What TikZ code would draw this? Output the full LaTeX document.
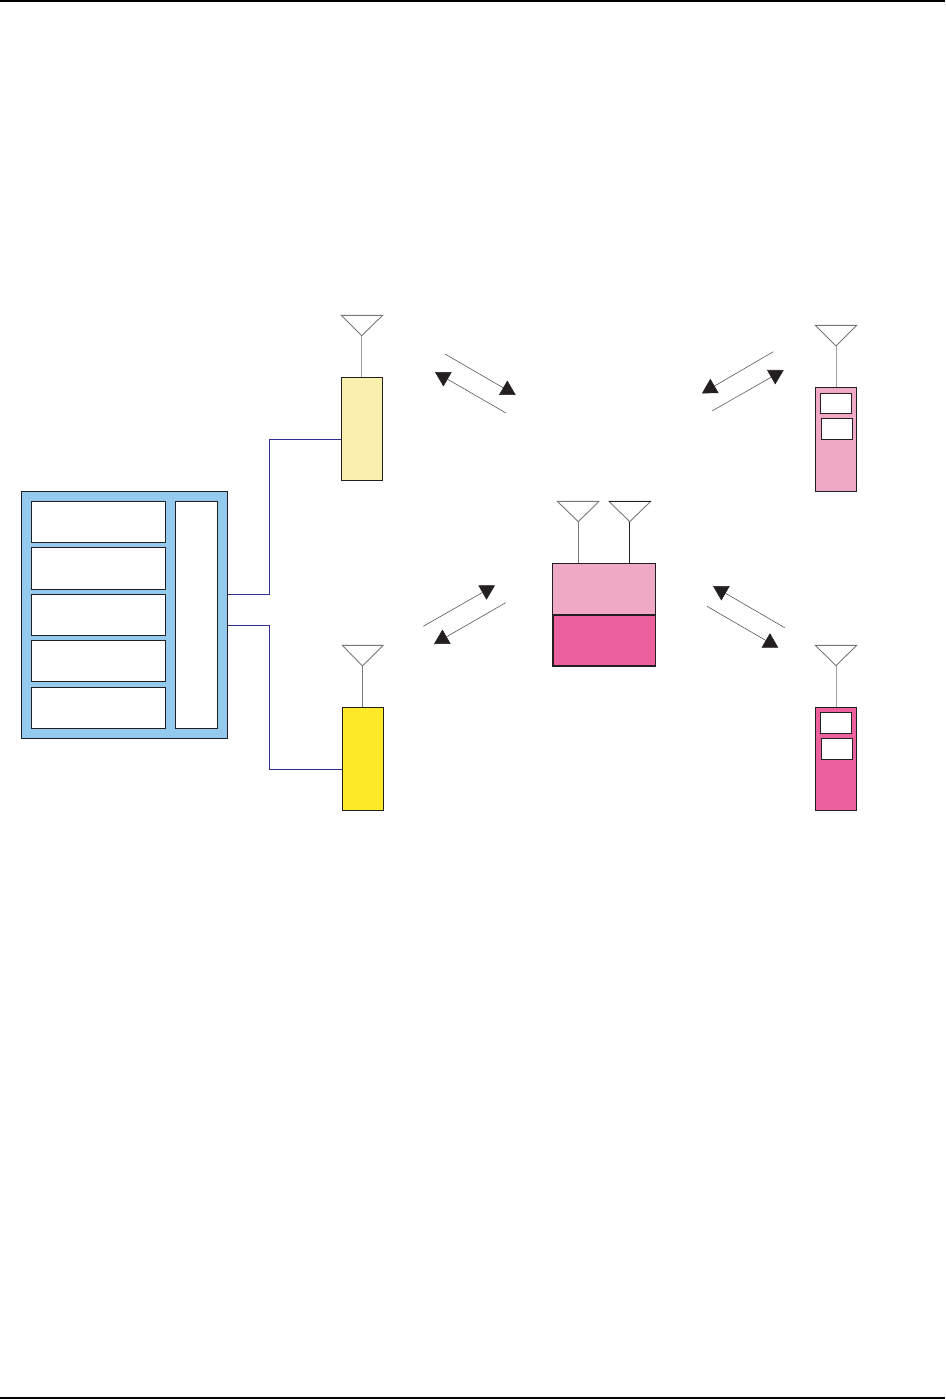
\documentclass[tikz,border=0pt]{standalone}
\usetikzlibrary{arrows.meta}
\definecolor{inkk}{HTML}{231F20}
\definecolor{wireblue}{HTML}{2E3192}
\definecolor{panelblue}{HTML}{94CAEE}
\definecolor{creamy}{HTML}{FAF0AE}
\definecolor{yellowy}{HTML}{FCE928}
\definecolor{palepink}{HTML}{EFA9C5}
\definecolor{hotpink}{HTML}{ED609E}
\definecolor{antgrey}{HTML}{77787B}
\definecolor{stemgrey}{HTML}{A0A1A3}
\tikzset{
  x=1pt,y=-1pt,
  blockbox/.style={draw=inkk,line width=1pt,inner sep=0pt,outer sep=0pt,anchor=north west,minimum width=#1},
  blockbox/.default=41pt,
  wire/.style={draw=wireblue,line width=0.85pt},
  aerial/.style={draw=antgrey,line width=0.9pt,line join=miter},
  stem/.style={draw=stemgrey,line width=1pt},
  linkarrow/.style={draw=inkk!80,line width=0.55pt,-{Triangle[length=14.5pt,width=16.5pt,fill=inkk,color=inkk]}},
  edgerule/.style={fill=black,draw=none}
}
\begin{document}
\begin{tikzpicture}
\useasboundingbox (0,0) rectangle (945,1399);
% page rules
\fill[edgerule] (0,0) rectangle (945,2);
\fill[edgerule] (0,1397) rectangle (945,1399);

% main panel
\node[blockbox=206pt,minimum height=246.6pt,fill=panelblue] (panel) at (21.7,491.7) {};
\node[blockbox=133.6pt,minimum height=40.6pt,fill=white] (s1) at (31.7,501.7) {};
\node[blockbox=133.6pt,minimum height=41.6pt,fill=white] (s2) at (31.7,547.7) {};
\node[blockbox=133.6pt,minimum height=40.6pt,fill=white] (s3) at (31.7,594.7) {};
\node[blockbox=133.6pt,minimum height=41pt,fill=white] (s4) at (31.7,640.3) {};
\node[blockbox=133.6pt,minimum height=41pt,fill=white] (s5) at (31.7,687.3) {};
\node[blockbox=42pt,minimum height=226.6pt,fill=white] (bus) at (175.3,501.7) {};

% base stations
\node[blockbox=41.4pt,minimum height=102.7pt,fill=creamy] (bsa) at (341.3,377.3) {};
\node[blockbox=41pt,minimum height=103pt,fill=yellowy] (bsb) at (342.3,707.3) {};

% wires
\coordinate (wa1) at (panel.east |- 0,594.3);
\coordinate (wa2) at (269.3,594.3);
\coordinate (wa3) at (269.3,439.3);
\coordinate (wb1) at (panel.east |- 0,625.3);
\coordinate (wb2) at (269.3,625.3);
\coordinate (wb3) at (269.3,769.3);
\draw[wire] (wa1) -- (wa2) -- (wa3) -- (wa3 -| bsa.west);
\draw[wire] (wb1) -- (wb2) -- (wb3) -- (wb3 -| bsb.west);

% centre terminal
\node[blockbox=103.4pt,minimum height=51.4pt,fill=palepink] (ctop) at (552.5,563.3) {};
\node[blockbox=102.7pt,minimum height=51pt,fill=hotpink,line width=1.6pt] (cbot) at (552.9,614.9) {};

% handsets
\node[blockbox=41.4pt,minimum height=104.4pt,fill=palepink] (hsa) at (815.3,387.3) {};
\node[blockbox=31.4pt,minimum height=20.4pt,fill=white] (hsa1) at (820.3,393.3) {};
\node[blockbox=31.4pt,minimum height=21pt,fill=white] (hsa2) at (821.3,418.3) {};
\node[blockbox=41.4pt,minimum height=103.4pt,fill=hotpink] (hsb) at (815.3,707.3) {};
\node[blockbox=31.4pt,minimum height=21pt,fill=white] (hsb1) at (820.3,712.3) {};
\node[blockbox=31.4pt,minimum height=21pt,fill=white] (hsb2) at (821.3,738.3) {};

% aerials
\coordinate (apa) at (361.7,335.7);
\draw[aerial] (341.3,315.3) -- (382.7,315.3) -- (apa) -- cycle;
\draw[stem] (apa) -- (apa |- bsa.north);
\coordinate (apb) at (362.5,666);
\draw[aerial] (342.3,645.3) -- (383.3,645.3) -- (apb) -- cycle;
\draw[stem,draw=antgrey] (apb) -- (apb |- bsb.north);
\coordinate (apc) at (578.3,521.7);
\draw[aerial] (557.3,501.3) -- (599,501.3) -- (apc) -- cycle;
\draw[stem,draw=antgrey] (apc) -- (apc |- ctop.north);
\coordinate (apd) at (629.7,521.7);
\draw[aerial] (609,501.3) -- (650.7,501.3) -- (apd) -- cycle;
\draw[aerial,draw=inkk,line width=0.8pt] (609,501.3) -- (650.7,501.3);
\draw[stem,draw=inkk,line width=0.9pt] (apd) -- (apd |- ctop.north);
\coordinate (ape) at (836,346);
\draw[aerial] (815.3,325.3) -- (856.7,325.3) -- (ape) -- cycle;
\draw[stem] (ape) -- (ape |- hsa.north);
\coordinate (apf) at (836,665.7);
\draw[aerial] (815.3,645.3) -- (856.7,645.3) -- (apf) -- cycle;
\draw[stem] (apf) -- (apf |- hsb.north);

% radio links
\coordinate (a1) at (445,354);     \coordinate (a2) at (515.7,395);
\coordinate (b1) at (506,413);     \coordinate (b2) at (435,372);
\coordinate (c1) at (773.3,351.7); \coordinate (c2) at (702,393.3);
\coordinate (d1) at (712,411);     \coordinate (d2) at (783.7,370);
\coordinate (e1) at (423.3,626.3); \coordinate (e2) at (495,585.3);
\coordinate (f1) at (505.7,602.7); \coordinate (f2) at (434,644);
\coordinate (g1) at (784.7,627.7); \coordinate (g2) at (713,586);
\coordinate (h1) at (707,606.3);   \coordinate (h2) at (778.3,647.7);
\foreach \p in {a,b,c,d,e,f,g,h} \draw[linkarrow] (\p1) -- (\p2);
\end{tikzpicture}
\end{document}
